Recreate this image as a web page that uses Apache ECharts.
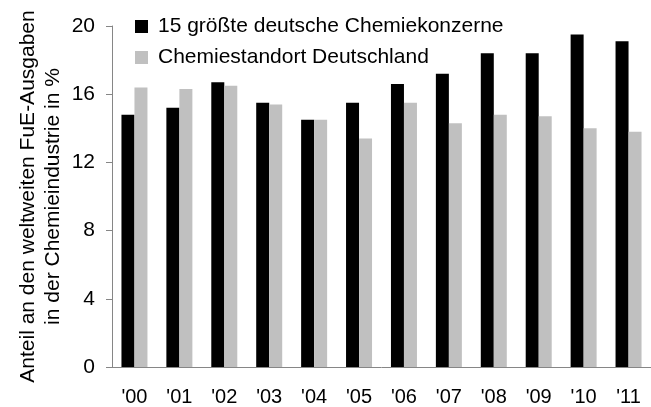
<!DOCTYPE html>
<html>
<head>
<meta charset="utf-8">
<script src="https://cdn.jsdelivr.net/npm/echarts@6/dist/echarts.min.js"></script>
<style>
  html, body { margin: 0; padding: 0; background: #fff; }
  #chart { width: 651px; height: 407px; }
</style>
</head>
<body>
<div id="chart"></div>
<script>
// Daten
const years = ["'00", "'01", "'02", "'03", "'04", "'05", "'06", "'07", "'08", "'09", "'10", "'11"];
const konzerne = [14.8, 15.2, 16.7, 15.5, 14.5, 15.5, 16.6, 17.2, 18.4, 18.4, 19.5, 19.1];
const standort = [16.4, 16.3, 16.5, 15.4, 14.5, 13.4, 15.5, 14.3, 14.8, 14.7, 14.0, 13.8];
const seriesNames = ['15 größte deutsche Chemiekonzerne', 'Chemiestandort Deutschland'];

const font = 'Liberation Sans, Arial, sans-serif';
const axisColor = '#868686';

let myChart = echarts.init(document.getElementById('chart'));
let options = {
  animation: false,
  grid: { left: 112, right: 0, top: 26, bottom: 40 },
  legend: {
    orient: 'vertical',
    left: 130,
    top: 11,
    itemWidth: 13,
    itemHeight: 13,
    itemGap: 10,
    icon: 'rect',
    textStyle: { fontFamily: font, fontSize: 21, color: '#000', padding: [0, 0, 0, 5] },
    data: seriesNames
  },
  xAxis: {
    type: 'category',
    data: years,
    axisLine: { lineStyle: { color: axisColor, width: 1 } },
    axisTick: { show: false },
    axisLabel: { fontFamily: font, fontSize: 20, color: '#000', margin: 20 }
  },
  yAxis: {
    type: 'value',
    min: 0,
    max: 20,
    interval: 4,
    name: 'Anteil an den weltweiten FuE-Ausgaben\nin der Chemieindustrie in %',
    nameLocation: 'middle',
    nameGap: 46,
    nameMoveOverlap: false,
    nameTextStyle: { fontFamily: font, fontSize: 21, color: '#000', lineHeight: 25 },
    splitLine: { show: false },
    axisLine: { show: true, lineStyle: { color: axisColor, width: 1 } },
    axisTick: { show: true, length: 6, lineStyle: { color: axisColor } },
    axisLabel: { fontFamily: font, fontSize: 21, color: '#000', margin: 17 }
  },
  series: [
    {
      name: seriesNames[0],
      type: 'bar',
      data: konzerne,
      barWidth: 13,
      barGap: '0%',
      itemStyle: { color: '#000000' }
    },
    {
      name: seriesNames[1],
      type: 'bar',
      data: standort,
      barWidth: 13,
      itemStyle: { color: '#c0c0c0' }
    }
  ]
};
myChart.setOption(options);
</script>
</body>
</html>
